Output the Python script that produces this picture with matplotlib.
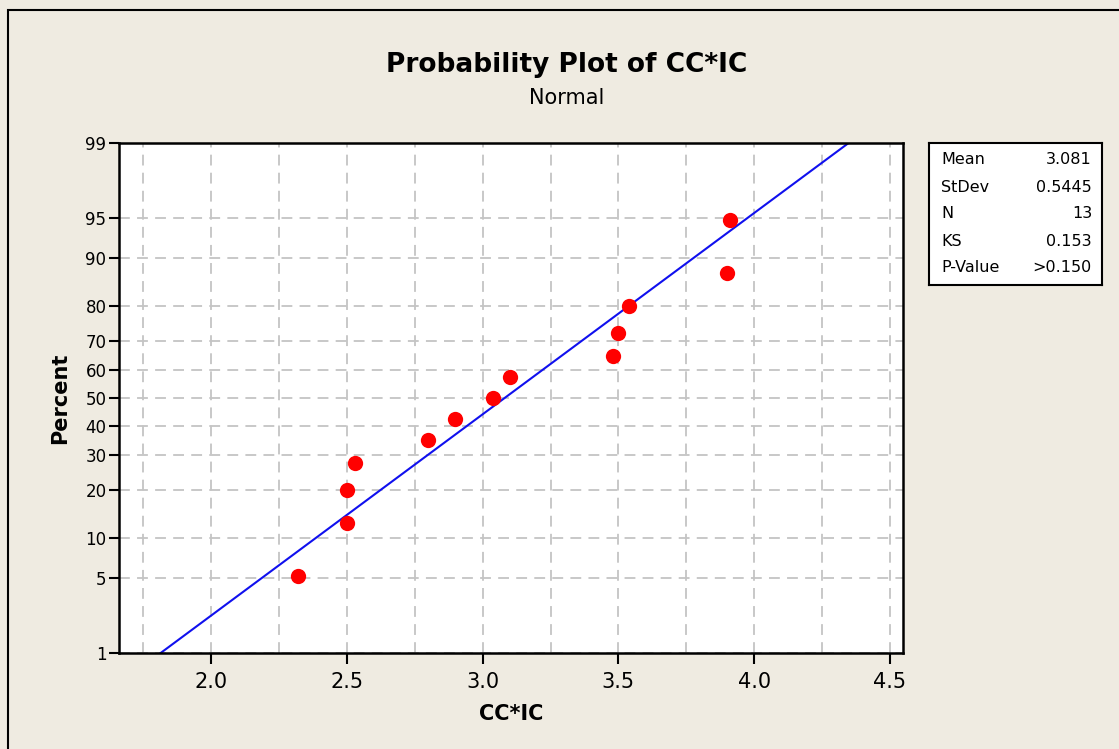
from statistics import NormalDist
import matplotlib.pyplot as plt
from matplotlib.patches import Rectangle

# data
cc_ic = [2.32, 2.50, 2.50, 2.53, 2.80, 2.90, 3.04, 3.10, 3.48, 3.50, 3.54, 3.90, 3.91]
percent = [5.2, 12.7, 20.1, 27.6, 35.1, 42.5, 50.0, 57.5, 64.9, 72.4, 79.9, 87.3, 94.8]
y_ticks = [1, 5, 10, 20, 30, 40, 50, 60, 70, 80, 90, 95, 99]
x_ticks = [2.0, 2.5, 3.0, 3.5, 4.0, 4.5]
x_grid = [1.75, 2.0, 2.25, 2.5, 2.75, 3.0, 3.25, 3.5, 3.75, 4.0, 4.25, 4.5]
mean = 3.081
stdev = 0.5445
stat_names = ["Mean", "StDev", "N", "KS", "P-Value"]
stat_values = ["3.081", "0.5445", "13", "0.153", ">0.150"]

BG = "#efebe1"
FONT = "DejaVu Sans"

nd = NormalDist()


def z(p):
    return nd.inv_cdf(p / 100.0)


def main():
    plt.rcParams["font.family"] = FONT
    fig = plt.figure(figsize=(11.19, 7.49), dpi=100, facecolor=BG)
    W, H = 1119, 749

    # outer frame
    fig.patches.append(Rectangle((8 / W, -0.1), 1.2, 1 - 10 / H + 0.1,
                                 transform=fig.transFigure, fill=False,
                                 edgecolor="black", linewidth=1.5))

    ax = fig.add_axes([119 / W, 1 - 653 / H, (903 - 119) / W, (653 - 143) / H])
    ax.set_facecolor("white")
    ax.set_xlim(1.661, 4.548)
    ax.set_ylim(z(1), z(99))

    for xv in x_grid:
        ax.axvline(xv, color="#c4c4c4", linestyle=(0, (6, 4)), linewidth=1.3, zorder=0)
    for p in y_ticks:
        ax.axhline(z(p), color="#c4c4c4", linestyle=(0, (6, 4)), linewidth=1.3, zorder=0)

    # fitted normal line
    lo, hi = z(1), z(99)
    ax.plot([mean + lo * stdev, mean + hi * stdev], [lo, hi],
            color="#1010ee", linewidth=1.5, zorder=2)

    ax.plot(cc_ic, [z(p) for p in percent], "o", color="#ff0000",
            markersize=11, markeredgewidth=0, zorder=3)

    ax.set_xticks(x_ticks)
    ax.set_xticklabels([f"{v:.1f}" for v in x_ticks], fontsize=15)
    ax.set_yticks([z(p) for p in y_ticks])
    ax.set_yticklabels([str(p) for p in y_ticks], fontsize=12)
    ax.tick_params(axis="x", length=8, width=1.5, pad=6)
    ax.tick_params(axis="y", length=7, width=1.5, pad=2)
    for s in ax.spines.values():
        s.set_linewidth(1.8)

    ax.set_xlabel("CC*IC", fontsize=15, fontweight="bold", labelpad=8)
    ax.set_ylabel("Percent", fontsize=15, fontweight="bold", labelpad=11)

    fig.text(567 / W, 1 - 65 / H, "Probability Plot of CC*IC", fontsize=19,
             fontweight="bold", ha="center", va="center")
    fig.text(567 / W, 1 - 98 / H, "Normal", fontsize=15, ha="center", va="center")

    # stats box
    bx = fig.add_axes([929 / W, 1 - 285 / H, (1102 - 929) / W, (285 - 143) / H])
    bx.set_facecolor("white")
    bx.set_xticks([])
    bx.set_yticks([])
    bx.set_xlim(0, 1)
    bx.set_ylim(0, 1)
    for s in bx.spines.values():
        s.set_linewidth(1.5)
    for i, (name, val) in enumerate(zip(stat_names, stat_values)):
        yy = 1 - (17 + i * 27) / 142
        bx.text(12 / 173, yy, name, fontsize=11.5, ha="left", va="center")
        bx.text(163 / 173, yy, val, fontsize=11.5, ha="right", va="center")

    fig.savefig("out.png", dpi=100, facecolor=BG)
    plt.close(fig)


if __name__ == "__main__":
    main()
